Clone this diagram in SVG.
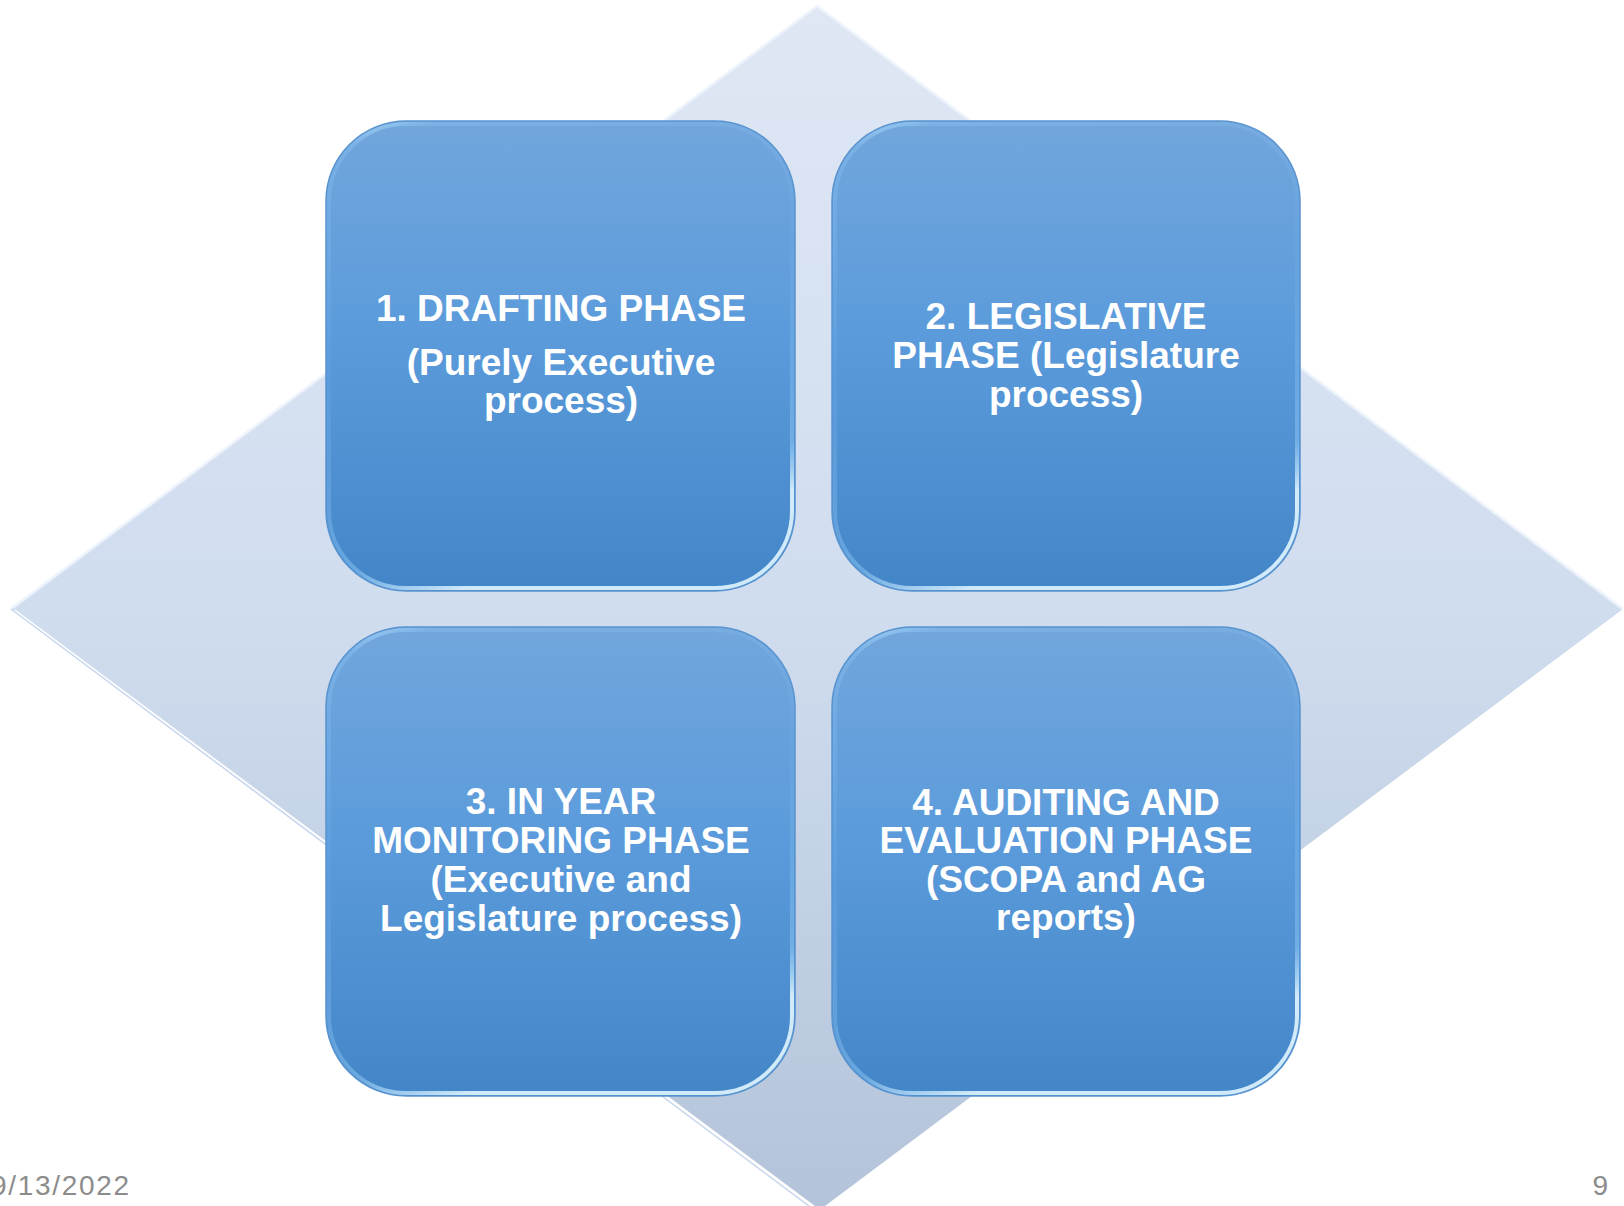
<svg xmlns="http://www.w3.org/2000/svg" width="1624" height="1206" viewBox="0 0 1624 1206">
<defs>
<linearGradient id="diaFill" x1="0" y1="0" x2="0" y2="1">
<stop offset="0" stop-color="#dfe7f4"/>
<stop offset="0.5" stop-color="#d0ddef"/>
<stop offset="1" stop-color="#b3c3d9"/>
</linearGradient>
<linearGradient id="boxFill" x1="0" y1="0" x2="0" y2="1">
<stop offset="0" stop-color="#72a6dc"/>
<stop offset="0.45" stop-color="#5b9bdb"/>
<stop offset="1" stop-color="#4386c8"/>
</linearGradient>
<linearGradient id="bevel" x1="0" y1="0" x2="0.3" y2="1">
<stop offset="0" stop-color="#c4e8ff" stop-opacity="0.95"/>
<stop offset="0.06" stop-color="#8cc6f5" stop-opacity="0.35"/>
<stop offset="0.5" stop-color="#7fb8ec" stop-opacity="0.12"/>
<stop offset="0.9" stop-color="#9fd6ff" stop-opacity="0.4"/>
<stop offset="1" stop-color="#e0f5ff" stop-opacity="0.9"/>
</linearGradient>
<style>
.box{fill:url(#boxFill);stroke:#5a94cf;stroke-width:1.5}
.bev{fill:none;stroke:url(#bevel);stroke-width:4}
.lbl{font-family:"Liberation Sans",Arial,sans-serif;font-weight:bold;font-size:37px;fill:#ffffff;text-anchor:middle}
.foot{font-family:"Liberation Sans",Arial,sans-serif;font-size:28px;fill:#8c8c8c}
</style>
</defs>
<rect width="1624" height="1206" fill="#ffffff"/>
<g id="diamond">
<polygon points="817,6 1623,609 817,1212 11,609" fill="url(#diaFill)"/>
<polyline points="11,609 817,6 1623,609" fill="none" stroke="#eef4fb" stroke-width="3" opacity="0.8"/>
<polyline points="14,611 817,1210" fill="none" stroke="#ffffff" stroke-width="4"/>
<polyline points="11,609 817,1212" fill="none" stroke="#c6d6ee" stroke-width="1.5"/>
</g>
<g id="connectors"></g>
<g id="node1">
<rect class="box" x="326" y="121" width="469" height="470" rx="80"/>
<rect class="bev" x="329" y="124" width="463" height="464" rx="77"/>
<text class="lbl" x="561" y="321">1. DRAFTING PHASE</text>
<text class="lbl" x="561" y="375">(Purely Executive</text>
<text class="lbl" x="561" y="413">process)</text>
</g>
<g id="node2">
<rect class="box" x="832" y="121" width="468" height="470" rx="80"/>
<rect class="bev" x="835" y="124" width="462" height="464" rx="77"/>
<text class="lbl" x="1066" y="329">2. LEGISLATIVE</text>
<text class="lbl" x="1066" y="368">PHASE (Legislature</text>
<text class="lbl" x="1066" y="407">process)</text>
</g>
<g id="node3">
<rect class="box" x="326" y="627" width="469" height="469" rx="80"/>
<rect class="bev" x="329" y="630" width="463" height="463" rx="77"/>
<text class="lbl" x="561" y="814">3. IN YEAR</text>
<text class="lbl" x="561" y="853">MONITORING PHASE</text>
<text class="lbl" x="561" y="892">(Executive and</text>
<text class="lbl" x="561" y="931">Legislature process)</text>
</g>
<g id="node4">
<rect class="box" x="832" y="627" width="468" height="469" rx="80"/>
<rect class="bev" x="835" y="630" width="462" height="463" rx="77"/>
<text class="lbl" x="1066" y="815">4. AUDITING AND</text>
<text class="lbl" x="1066" y="853">EVALUATION PHASE</text>
<text class="lbl" x="1066" y="892">(SCOPA and AG</text>
<text class="lbl" x="1066" y="930">reports)</text>
</g>
<text class="foot" x="-9" y="1195" textLength="138" lengthAdjust="spacing">9/13/2022</text>
<text class="foot" x="1608" y="1195" text-anchor="end">9</text>
</svg>
